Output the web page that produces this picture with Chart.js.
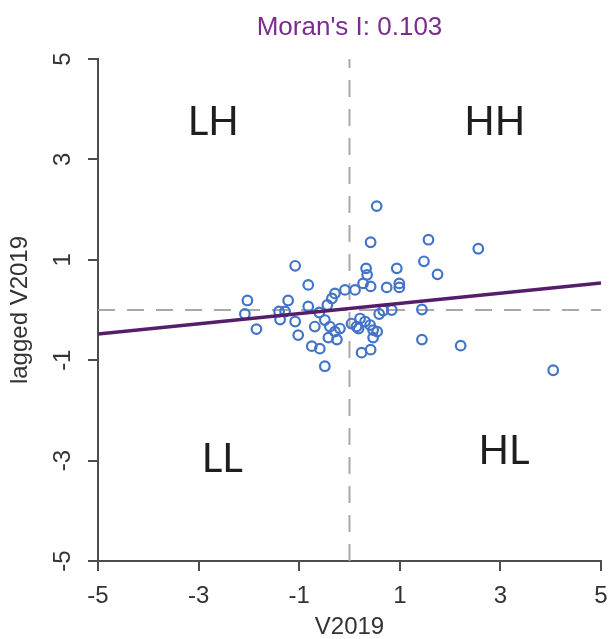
<!DOCTYPE html>
<html lang="en">
<head>
    <meta charset="UTF-8">
    <title>Moran's I scatter</title>
    <style>
        html, body { margin: 0; padding: 0; background: #ffffff; }
        #wrap { width: 610px; height: 639px; }
    </style>
</head>
<body>
    <div id="wrap">
        <canvas id="myChart" width="610" height="639"></canvas>
    </div>

    <script src="https://cdn.jsdelivr.net/npm/chart.js"></script>
    <script>
        // values
        var v2019 = [
            0.54, 0.42, 1.57, 2.56, 1.48, 1.75, -1.08, 0.33, 0.35, 0.94,
            -0.82, -2.03, -1.22, -2.08, -1.85, -1.40, -1.28, -1.38, -1.08, -1.02,
            -0.82, -0.60, -0.69, -0.49, -0.44, -0.35, -0.29, -0.09, 0.11, 0.27,
            0.42, 0.74, 0.99, 0.99, -0.39, -0.29, -0.42, -0.25, -0.19, -0.75,
            -0.59, -0.49, 0.04, 0.14, 0.21, 0.31, 0.18, 0.41, 0.47, 0.55,
            0.47, 0.24, 0.42, 0.67, 0.84, 0.59, 1.44, 1.44, 2.21, 4.05
        ];
        var laggedV2019 = [
            2.07, 1.35, 1.40, 1.22, 0.97, 0.71, 0.88, 0.83, 0.70, 0.83,
            0.50, 0.19, 0.19, -0.08, -0.38, -0.03, -0.03, -0.19, -0.23, -0.50,
            0.07, -0.05, -0.33, -0.20, 0.10, 0.23, 0.33, 0.40, 0.40, 0.53,
            0.47, 0.45, 0.53, 0.45, -0.33, -0.43, -0.55, -0.59, -0.37, -0.72,
            -0.77, -1.12, -0.27, -0.33, -0.17, -0.23, -0.37, -0.30, -0.40, -0.43,
            -0.55, -0.85, -0.79, -0.01, 0.00, -0.08, 0.01, -0.59, -0.71, -1.20
        ];

        // fitted line (slope = Moran's I)
        var fitX = [-5, 5];
        var fitY = [-0.48, 0.54];

        var xTicks = [-5, -3, -1, 1, 3, 5];
        var yTicks = [-5, -3, -1, 1, 3, 5];

        var quadNames = ['LH', 'HH', 'LL', 'HL'];
        var quadX = [-2.71, 2.89, -2.53, 3.07];
        var quadY = [3.49, 3.49, -3.23, -3.07];

        var axisFont = 'Liberation Sans, Arial, sans-serif';

        function toPoints(xs, ys) {
            var pts = [];
            for (var i = 0; i < xs.length; i++) {
                pts.push({ x: xs[i], y: ys[i] });
            }
            return pts;
        }

        // LH / HH / LL / HL labels in the four quadrants
        var quadrantLabels = {
            id: 'quadrantLabels',
            afterDatasetsDraw: function(chart) {
                var ctx = chart.ctx;
                var xs = chart.scales.x, ys = chart.scales.y;
                ctx.save();
                ctx.font = '40px Lato, "Open Sans", sans-serif';
                ctx.fillStyle = '#1e1e1e';
                ctx.textAlign = 'center';
                ctx.textBaseline = 'alphabetic';
                for (var i = 0; i < quadNames.length; i++) {
                    ctx.fillText(quadNames[i], xs.getPixelForValue(quadX[i]), ys.getPixelForValue(quadY[i]));
                }
                ctx.restore();
            }
        };

        function fixedTicks(list) {
            return function(scale) {
                scale.ticks = list.map(function(v) { return { value: v }; });
            };
        }

        var ctx = document.getElementById('myChart').getContext('2d');
        var chart = new Chart(ctx, {
            type: 'scatter',
            data: {
                datasets: [
                    {
                        label: 'fit',
                        data: toPoints(fitX, fitY),
                        showLine: true,
                        borderColor: '#561d6b',
                        borderWidth: 3.5,
                        pointRadius: 0
                    },
                    {
                        label: 'V2019',
                        data: toPoints(v2019, laggedV2019),
                        pointStyle: 'circle',
                        pointRadius: 4.8,
                        pointBorderWidth: 2.2,
                        borderColor: '#4274c8',
                        backgroundColor: 'rgba(255,255,255,0)'
                    },
                    {
                        label: 'h0',
                        data: toPoints([-5, 5], [0, 0]),
                        showLine: true,
                        borderColor: '#a9a9a9',
                        borderWidth: 2,
                        borderDash: [17, 12],
                        pointRadius: 0
                    },
                    {
                        label: 'v0',
                        data: toPoints([0, 0], [-5, 5]),
                        showLine: true,
                        borderColor: '#a9a9a9',
                        borderWidth: 2,
                        borderDash: [17, 12],
                        pointRadius: 0
                    }
                ]
            },
            options: {
                responsive: false,
                animation: false,
                devicePixelRatio: 1,
                layout: { padding: { left: 0, right: 9, top: 0, bottom: 0 } },
                plugins: {
                    legend: { display: false },
                    tooltip: { enabled: false },
                    title: {
                        display: true,
                        text: "Moran's I: 0.103",
                        color: '#7b2c8e',
                        fullSize: false,
                        font: { family: axisFont, size: 26, weight: 'normal', lineHeight: 1 },
                        padding: { top: 15, bottom: 18 }
                    }
                },
                scales: {
                    x: {
                        type: 'linear',
                        min: -5,
                        max: 5,
                        afterBuildTicks: fixedTicks(xTicks),
                        afterFit: function(scale) {
                            scale.height = 78;
                            scale.paddingLeft = 0;
                            scale.paddingRight = 0;
                        },
                        border: { display: true, color: '#4d4d4d', width: 2 },
                        grid: { drawOnChartArea: false, drawTicks: true, tickLength: 10, color: '#4d4d4d', lineWidth: 2 },
                        ticks: {
                            color: '#333333',
                            padding: 11,
                            maxRotation: 0,
                            font: { family: axisFont, size: 24 }
                        },
                        title: {
                            display: true,
                            text: 'V2019',
                            color: '#333333',
                            font: { family: axisFont, size: 24, lineHeight: 1 },
                            padding: { top: 0, bottom: 0 }
                        }
                    },
                    y: {
                        type: 'linear',
                        min: -5,
                        max: 5,
                        afterBuildTicks: fixedTicks(yTicks),
                        afterFit: function(scale) {
                            scale.width = 98;
                            scale.paddingTop = 0;
                            scale.paddingBottom = 0;
                        },
                        border: { display: true, color: '#4d4d4d', width: 2 },
                        grid: { drawOnChartArea: false, drawTicks: true, tickLength: 10, color: '#4d4d4d', lineWidth: 2 },
                        ticks: {
                            color: '#333333',
                            padding: 14,
                            minRotation: 90,
                            maxRotation: 90,
                            crossAlign: 'center',
                            font: { family: axisFont, size: 24 }
                        },
                        title: {
                            display: true,
                            text: 'lagged V2019',
                            color: '#333333',
                            font: { family: axisFont, size: 24, lineHeight: 1 },
                            padding: { top: 8, bottom: 0 }
                        }
                    }
                }
            },
            plugins: [quadrantLabels]
        });
    </script>
</body>
</html>
